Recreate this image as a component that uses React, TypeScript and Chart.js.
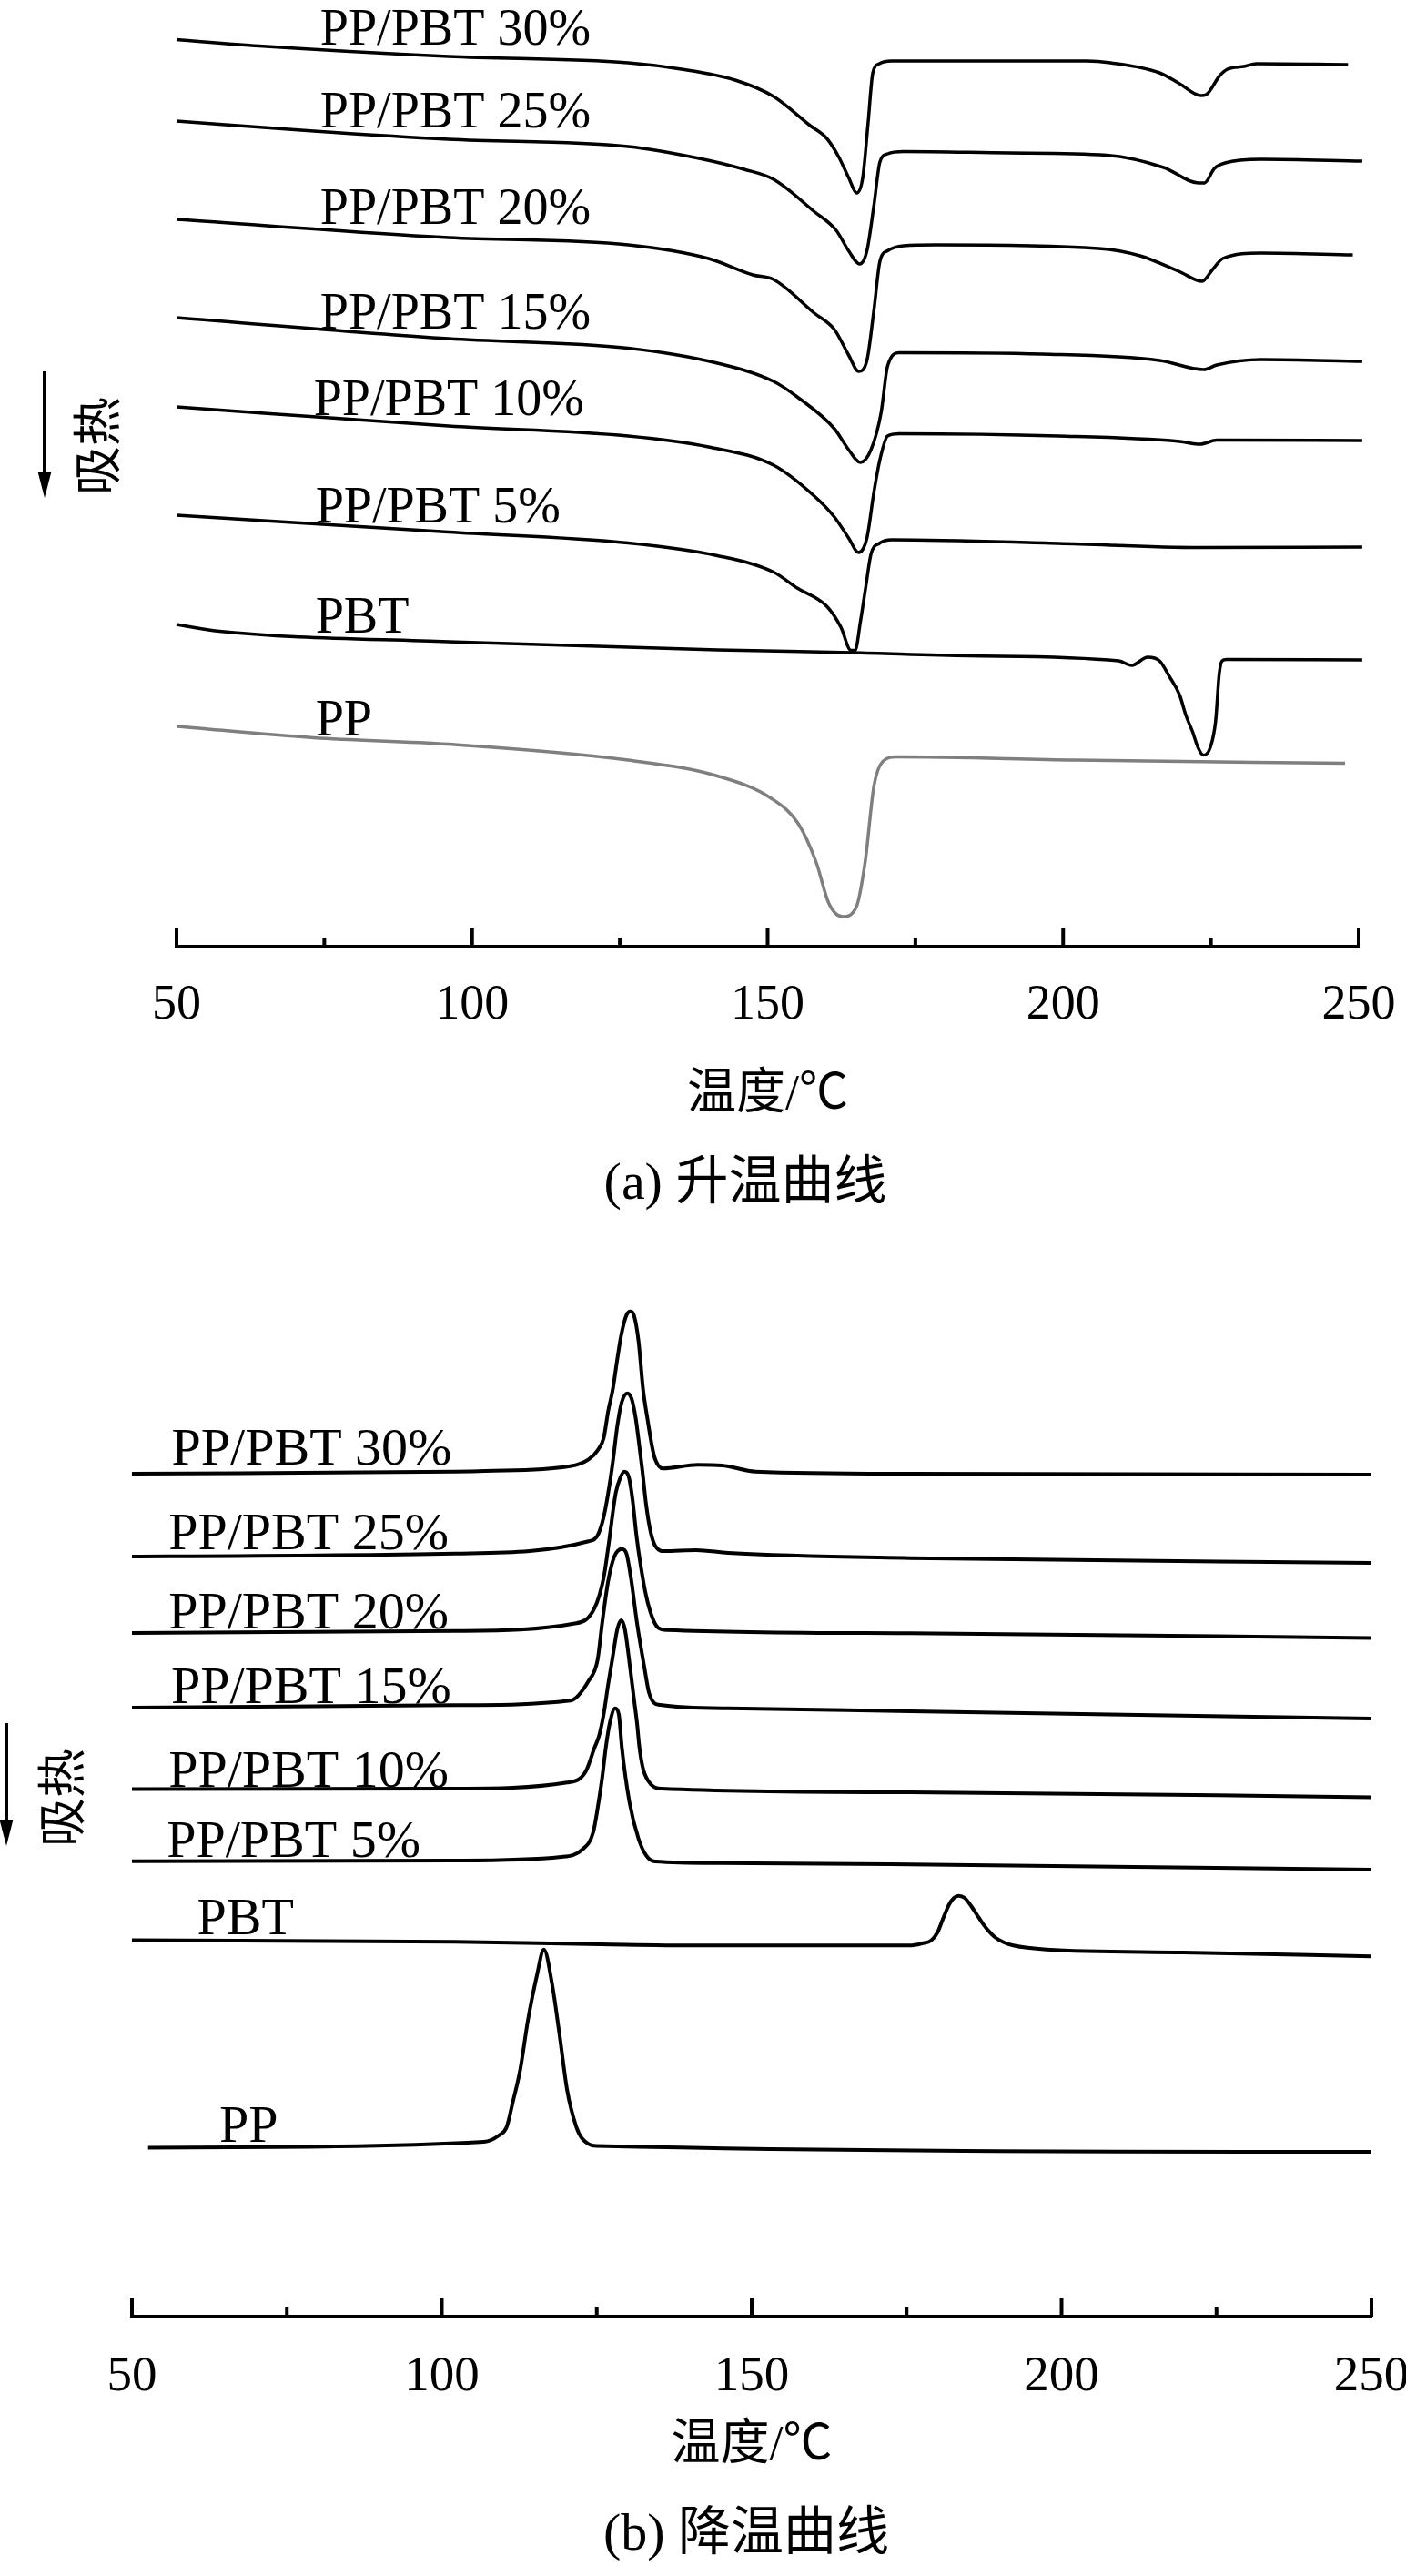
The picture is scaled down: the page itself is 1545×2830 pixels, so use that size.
import React, { useEffect, useRef } from 'react';
import { Chart, registerables } from 'chart.js';

Chart.register(...registerables);

type Pt = [number, number];

// ---------- (a) heating curves: [temperature (°C), heat flow (a.u., stacked)] ----------
const heating30: Pt[] = [[50, 99.65], [64, 98.95], [96, 97.8], [126.4, 97.1], [135.4, 96.4], [144.5, 95.2], [151, 93.4], [157.2, 90.2], [160, 88.8], [162, 86.8], [163.7, 84.5], [165.1, 82.8], [166.1, 84.5], [167, 90.5], [167.8, 96.0], [168.9, 97.0], [170.9, 97.3], [204, 97.3], [208, 97.1], [216.3, 96.0], [219.7, 94.8], [223.3, 93.5], [224.2, 93.6], [226.5, 95.7], [227.8, 96.4], [230.6, 96.7], [232.7, 97.0], [248.2, 96.9]];
const heating25: Pt[] = [[50, 90.7], [73.2, 89.6], [96, 88.7], [126.4, 87.9], [138.4, 86.6], [146, 85.4], [151, 84.3], [157.9, 80.75], [161.6, 78.7], [163.7, 76.45], [165.6, 75.0], [166.8, 76.45], [168, 81.5], [169, 86.2], [170.3, 87.1], [173, 87.35], [190.9, 87.2], [207.4, 86.95], [217, 85.6], [222.9, 83.9], [223.9, 83.9], [225.6, 85.5], [227.4, 86.1], [233.5, 86.5], [250.6, 86.3]];
const heating20: Pt[] = [[50, 79.9], [96, 77.9], [126.4, 77.1], [140, 75.6], [147.5, 73.8], [151, 73.3], [157.9, 69.6], [161.3, 67.8], [163.7, 65.0], [165.4, 63.2], [166.8, 64.4], [168, 70], [169, 75.3], [170.3, 76.45], [173, 77.0], [178.5, 77.1], [206, 76.7], [213, 75.9], [219.7, 74.15], [223.5, 73.1], [225.3, 74.4], [227, 75.6], [233.5, 76.2], [249, 76.0]];
const heating15: Pt[] = [[50, 69.1], [96, 66.8], [126.4, 65.75], [141.5, 64.1], [151, 62.1], [155, 60.4], [161.3, 56.9], [163.7, 54.6], [165.7, 53.2], [167.5, 54.6], [169.2, 58.65], [170.3, 63.8], [172.3, 65.25], [196.4, 65.1], [216.3, 64.4], [223.8, 63.4], [226, 63.9], [233.5, 64.5], [250.6, 64.3]];
const heating10: Pt[] = [[50, 59.3], [96, 57.2], [126.4, 56.1], [140, 54.9], [151, 52.9], [157.9, 49.5], [161.3, 47.2], [163.7, 44.9], [165.4, 43.3], [166.8, 44.9], [168, 50], [169, 53.5], [170.3, 56.1], [172.3, 56.35], [199.2, 56.1], [219.7, 55.5], [223.2, 55.2], [226, 55.65], [250.6, 55.6]];
const heating5: Pt[] = [[50, 47.4], [96, 45.55], [126.4, 44.35], [141.5, 42.95], [151, 41.15], [155, 39.4], [160, 37.4], [162.4, 35.1], [164.1, 32.55], [164.8, 32.55], [165.7, 35.7], [166.6, 39.5], [167.5, 43.15], [168.9, 44.3], [171, 44.7], [199.2, 44.3], [223.2, 43.85], [250.6, 43.9]];
const heatingPBT: Pt[] = [[50, 35.4], [56.5, 34.7], [96, 33.5], [141.5, 32.6], [164.3, 32.3], [184, 31.95], [209.4, 31.4], [211.6, 30.9], [214.3, 31.8], [216.3, 31.4], [218, 29.65], [219.7, 27.65], [220.8, 25.35], [221.9, 23.6], [222.8, 21.9], [223.7, 21.05], [224.9, 21.9], [225.8, 24.8], [226.4, 29.95], [226.9, 31.4], [227.6, 31.55], [250.6, 31.5]];
const heatingPP: Pt[] = [[50, 24.2], [73.2, 22.95], [96, 22.25], [126.4, 20.5], [141.5, 18.75], [150.6, 16.3], [155.2, 13.5], [158.2, 9.3], [160.4, 4.7], [162.7, 3.3], [165, 4.35], [166.5, 9.3], [168, 17.7], [169.5, 20.35], [171.8, 20.85], [202, 20.5], [247.7, 20.15]];

const heatingNames = ['PP/PBT 30%', 'PP/PBT 25%', 'PP/PBT 20%', 'PP/PBT 15%', 'PP/PBT 10%', 'PP/PBT 5%', 'PBT', 'PP'];
const heatingNameAt: Pt[] = [[74.3, 99.1], [74.3, 89.96], [74.3, 79.44], [74.3, 67.86], [73.2, 58.39], [73.5, 46.6], [73.5, 34.53], [73.5, 23.16]];

// ---------- (b) cooling curves ----------
const cooling30: Pt[] = [[50, 92.6], [102.1, 92.83], [107, 92.9], [120.7, 93.43], [123.67, 94.17], [125.14, 95.17], [126.11, 96.5], [126.85, 99.5], [127.58, 101.83], [128.31, 105.17], [128.95, 107.83], [129.78, 110.0], [130.42, 110.43], [131.0, 110.0], [131.74, 107.17], [132.48, 101.83], [133.21, 98.5], [133.95, 95.5], [134.43, 94.17], [135.65, 93.17], [141.29, 93.57], [145.2, 93.5], [150.6, 92.83], [175.55, 92.6], [250, 92.5]];
const cooling25: Pt[] = [[50, 83.5], [102.1, 83.83], [123.67, 85.17], [125.14, 85.83], [126.11, 87.83], [126.85, 90.5], [127.58, 93.83], [128.31, 97.83], [129.05, 100.5], [129.93, 101.43], [130.62, 100.83], [131.25, 98.83], [131.84, 95.83], [132.38, 92.83], [132.97, 89.17], [133.7, 86.17], [134.43, 84.67], [135.9, 84.1], [141, 84.2], [146.2, 83.9], [175.55, 83.33], [250, 82.8]];
const cooling20: Pt[] = [[50, 75.1], [102.1, 75.33], [121.7, 76.17], [124.64, 77.83], [126.11, 81.17], [126.85, 84.5], [128.07, 90.5], [128.81, 92.17], [129.44, 92.83], [130.13, 92.33], [130.76, 89.83], [131.4, 85.83], [132.09, 82.5], [132.97, 79.17], [133.95, 76.83], [134.92, 75.67], [136.39, 75.43], [175.55, 75.07], [250, 74.55]];
const cooling15: Pt[] = [[50, 66.9], [102.1, 67.17], [120.73, 67.67], [123.67, 69.83], [125.14, 72.17], [125.87, 76.17], [126.85, 80.83], [127.83, 83.5], [129.05, 84.33], [129.78, 83.83], [130.51, 81.17], [131.5, 76.17], [132.72, 71.17], [133.45, 68.5], [134.92, 67.23], [146.2, 66.83], [175.55, 66.5], [250, 65.7]];
const cooling10: Pt[] = [[50, 57.95], [102.1, 58.0], [120.23, 58.67], [123.17, 59.83], [124.64, 62.5], [125.38, 63.83], [126.11, 66.17], [126.85, 69.5], [127.58, 72.5], [128.31, 75.5], [128.95, 76.5], [129.54, 75.5], [130.28, 71.83], [131.01, 67.83], [131.5, 65.17], [131.89, 62.5], [132.48, 60.17], [133.7, 58.5], [135.42, 58.0], [175.55, 57.6], [250, 57.05]];
const cooling5: Pt[] = [[50, 50.02], [102.1, 50.1], [119.27, 50.5], [122.69, 51.33], [124.41, 53.17], [125.14, 55.83], [125.87, 59.17], [126.46, 62.5], [127.09, 65.17], [127.97, 66.83], [128.56, 66.17], [129.05, 62.5], [130.28, 56.5], [131.74, 52.5], [132.97, 50.67], [134.43, 50.0], [144.71, 49.83], [175.55, 49.67], [250, 49.1]];
const coolingPBT: Pt[] = [[50, 41.36], [102.1, 41.17], [125.6, 40.9], [140.8, 40.77], [175.55, 40.77], [177.5, 41.0], [178.97, 41.33], [179.96, 42.17], [180.94, 43.83], [181.9, 45.33], [182.64, 46.0], [183.38, 46.23], [184.36, 46.0], [185.34, 45.17], [186.32, 44.17], [187.3, 43.17], [188.28, 42.33], [189.25, 41.67], [190.72, 41.1], [192.19, 40.77], [197.58, 40.33], [219.6, 40.0], [250, 39.57]];
const coolingPP: Pt[] = [[52.6, 18.56], [106.8, 19.2], [109.2, 19.9], [110.46, 20.83], [111.43, 23.5], [112.66, 27.17], [113.88, 32.5], [115.35, 37.5], [116.47, 40.33], [117.8, 36.5], [119.02, 30.83], [120.23, 24.83], [121.7, 20.83], [122.6, 19.6], [124.9, 18.74], [250, 18.1]];

const coolingNames = ['PP/PBT 30%', 'PP/PBT 25%', 'PP/PBT 20%', 'PP/PBT 15%', 'PP/PBT 10%', 'PP/PBT 5%', 'PBT', 'PP'];
const coolingNameAt: Pt[] = [[56.4, 93.57], [55.9, 84.33], [55.9, 75.6], [56.3, 67.43], [55.9, 58.2], [55.6, 50.5], [60.5, 42.0], [64.1, 19.2]];

// ---------- axis ----------
const xMin = 50;
const xMax = 250;
const xStep = 25;
const majorStep = 50;
const xTitle = '温度/℃';
const yLabel = '吸热';

const SERIF = "'Liberation Serif', 'Times New Roman', serif";
const MIXED = "'Liberation Serif', 'Noto Sans CJK SC', serif";
const CJK = "'Noto Sans CJK SC', sans-serif";

interface PanelSpec {
  series: Pt[][];
  colors: string[];
  names: string[];
  nameAt: Pt[];
  width: number;
  height: number;
  top: number;
  padLeft: number;
  padRight: number;
  padTop: number;
  yMax: number;
  axisH: number;
  tickFont: number;
  tickPad: number;
  titleFont: number;
  titlePadBottom: number;
  caption: string;
  captionX: number;
  captionY: number;
  yLabelX: number;
  yLabelY: number;
  arrowX: number;
  arrowY1: number;
  arrowY2: number;
  labelFont: number;
  lineWidth: number;
}

function makeDecor(spec: PanelSpec) {
  return {
    id: 'decor',
    afterDraw(chart: any) {
      const { ctx, chartArea, scales } = chart;
      const xs = scales.x;
      const ys = scales.y;
      ctx.save();
      // tick marks (inward)
      ctx.strokeStyle = '#000';
      ctx.lineWidth = 4;
      ctx.lineCap = 'butt';
      xs.ticks.forEach((t: any) => {
        const px = xs.getPixelForValue(t.value);
        const len = t.value % majorStep === 0 ? 20 : 10;
        ctx.beginPath();
        ctx.moveTo(px, chartArea.bottom);
        ctx.lineTo(px, chartArea.bottom - len);
        ctx.stroke();
      });
      // curve labels
      ctx.fillStyle = '#000';
      ctx.font = `${spec.labelFont}px ${SERIF}`;
      ctx.textAlign = 'left';
      ctx.textBaseline = 'alphabetic';
      spec.names.forEach((n, i) => {
        const [t, v] = spec.nameAt[i];
        ctx.fillText(n, xs.getPixelForValue(t), ys.getPixelForValue(v));
      });
      // caption
      ctx.font = `58px ${MIXED}`;
      ctx.textAlign = 'center';
      ctx.textBaseline = 'middle';
      ctx.fillText(spec.caption, spec.captionX, spec.captionY);
      // rotated y label
      ctx.save();
      ctx.translate(spec.yLabelX, spec.yLabelY);
      ctx.rotate(-Math.PI / 2);
      ctx.font = `54px ${CJK}`;
      ctx.fillText(yLabel, 0, 0);
      ctx.restore();
      // arrow
      const ax = spec.arrowX;
      ctx.lineWidth = 4;
      ctx.beginPath();
      ctx.moveTo(ax, spec.arrowY1);
      ctx.lineTo(ax, spec.arrowY2 - 24);
      ctx.stroke();
      ctx.beginPath();
      ctx.moveTo(ax - 7.5, spec.arrowY2 - 29);
      ctx.lineTo(ax + 7.5, spec.arrowY2 - 29);
      ctx.lineTo(ax, spec.arrowY2);
      ctx.closePath();
      ctx.fill();
      ctx.restore();
    },
  };
}

function Panel({ spec }: { spec: PanelSpec }) {
  const ref = useRef<HTMLCanvasElement>(null);
  useEffect(() => {
    const canvas = ref.current;
    if (!canvas) return;
    const datasets = spec.series.map((s, i) => ({
      label: spec.names[i],
      data: s.map(([x, y]) => ({ x, y })),
      borderColor: spec.colors[i],
      borderWidth: spec.lineWidth,
      pointRadius: 0,
      fill: false,
      cubicInterpolationMode: 'monotone' as const,
      clip: false as any,
    }));
    const chart = new Chart(canvas, {
      type: 'line',
      data: { datasets },
      options: {
        animation: false,
        responsive: false,
        events: [],
        layout: { padding: { left: spec.padLeft, right: spec.padRight, top: spec.padTop, bottom: 0 } },
        plugins: { legend: { display: false }, tooltip: { enabled: false } },
        scales: {
          x: {
            type: 'linear',
            min: xMin,
            max: xMax,
            afterFit: (s: any) => {
              s.height = spec.axisH;
              s.paddingLeft = 0;
              s.paddingRight = 0;
            },
            ticks: {
              stepSize: xStep,
              autoSkip: false,
              maxRotation: 0,
              minRotation: 0,
              padding: spec.tickPad,
              color: '#000',
              font: { family: SERIF, size: spec.tickFont },
              callback: (v: any) => (Number(v) % majorStep === 0 ? String(v) : ''),
            },
            grid: { display: false, drawTicks: false },
            border: { display: true, color: '#000', width: 4 },
            title: {
              display: true,
              text: xTitle,
              color: '#000',
              font: { family: MIXED, size: spec.titleFont },
              padding: { top: 0, bottom: spec.titlePadBottom },
            },
          },
          y: { type: 'linear', display: false, min: 0, max: spec.yMax },
        },
      },
      plugins: [makeDecor(spec)],
    } as any);
    return () => chart.destroy();
  }, [spec]);
  return (
    <canvas
      ref={ref}
      width={spec.width}
      height={spec.height}
      style={{ position: 'absolute', left: 0, top: spec.top, width: spec.width, height: spec.height, display: 'block' }}
    />
  );
}

const black = '#000000';
const grey = '#7f7f7f';

const heatingSpec: PanelSpec = {
  series: [heating30, heating25, heating20, heating15, heating10, heating5, heatingPBT, heatingPP],
  colors: [black, black, black, black, black, black, black, grey],
  names: heatingNames,
  nameAt: heatingNameAt,
  width: 1545,
  height: 1360,
  top: 0,
  padLeft: 194,
  padRight: 52,
  padTop: 20,
  yMax: 102,
  axisH: 320,
  tickFont: 54,
  tickPad: 32,
  titleFont: 54,
  titlePadBottom: 124,
  caption: '(a) 升温曲线',
  captionX: 819,
  captionY: 1302,
  yLabelX: 106,
  yLabelY: 490,
  arrowX: 49,
  arrowY1: 408,
  arrowY2: 547,
  labelFont: 56,
  lineWidth: 3.5,
};

const coolingSpec: PanelSpec = {
  series: [cooling30, cooling25, cooling20, cooling15, cooling10, cooling5, coolingPBT, coolingPP],
  colors: [black, black, black, black, black, black, black, black],
  names: coolingNames,
  nameAt: coolingNameAt,
  width: 1545,
  height: 1470,
  top: 1360,
  padLeft: 145,
  padRight: 38,
  padTop: 25,
  yMax: 116,
  axisH: 285,
  tickFont: 55,
  tickPad: 34,
  titleFont: 54,
  titlePadBottom: 110,
  caption: '(b) 降温曲线',
  captionX: 820,
  captionY: 1426,
  yLabelX: 67,
  yLabelY: 615,
  arrowX: 7,
  arrowY1: 533,
  arrowY2: 668,
  labelFont: 58,
  lineWidth: 4,
};

export default function App() {
  return (
    <div style={{ position: 'absolute', left: 0, top: 0, width: 1545, height: 2830, background: '#fff' }}>
      <Panel spec={heatingSpec} />
      <Panel spec={coolingSpec} />
    </div>
  );
}
